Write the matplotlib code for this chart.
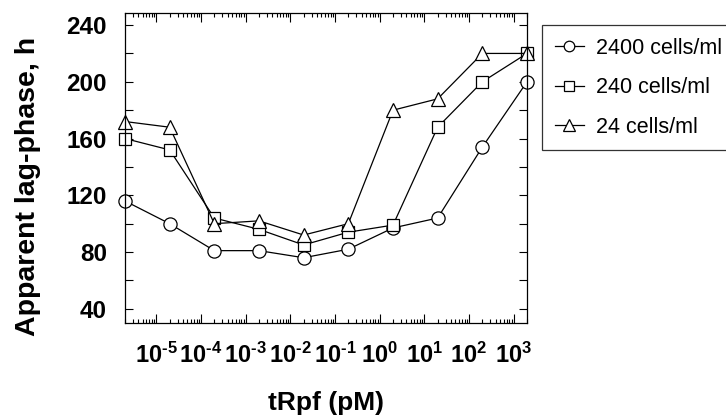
import numpy as np
import matplotlib
matplotlib.use('Agg')
import matplotlib.pyplot as plt
from matplotlib.ticker import FixedLocator, LogLocator, MultipleLocator, NullFormatter

plt.rcParams['font.family'] = ['Liberation Sans', 'DejaVu Sans']
plt.rcParams['mathtext.fontset'] = 'custom'
plt.rcParams['mathtext.bf'] = 'Liberation Sans:bold'
plt.rcParams['mathtext.rm'] = 'Liberation Sans:bold'

# tRpf concentration, pM
conc = [2e-6, 2e-5, 2e-4, 2e-3, 2e-2, 2e-1, 2e0, 2e1, 2e2, 2e3]
# apparent lag-phase, h
lag_2400 = [116, 100, 81, 81, 76, 82, 97, 104, 154, 200]
lag_240 = [160, 152, 104, 96, 85, 94, 99, 168, 200, 220]
lag_24 = [172, 168, 100, 102, 92, 100, 180, 188, 220, 220]

x_ticks = [1e-5, 1e-4, 1e-3, 1e-2, 1e-1, 1e0, 1e1, 1e2, 1e3]
x_labels = ['\u20105', '\u20104', '\u20103', '\u20102', '\u20101', '0', '1', '2', '3']
y_ticks = [40, 80, 120, 160, 200, 240]

fig = plt.figure(figsize=(7.26, 4.18), dpi=100)
ax = fig.add_axes([125/726, 95/418, 402/726, 310/418])

series = [(lag_2400, 'o', 9.5, '2400 cells/ml'),
          (lag_240, 's', 8.5, '240 cells/ml'),
          (lag_24, '^', 10, '24 cells/ml')]
for vals, mk, ms, lab in series:
    ax.plot(conc, vals, color='black', lw=0.9, marker=mk, ms=ms,
            mfc='white', mec='black', mew=0.9, label=lab, clip_on=False)

ax.set_xscale('log')
ax.set_xlim(2e-6, 2e3)
ax.set_ylim(30, 248.5)

ax.xaxis.set_major_locator(FixedLocator(x_ticks))
ax.set_xticklabels([r'$\mathbf{10^{%s}}$' % s for s in x_labels])
ax.xaxis.set_minor_locator(LogLocator(base=10, subs=np.arange(2, 10), numticks=20))
ax.xaxis.set_minor_formatter(NullFormatter())
ax.set_yticks(y_ticks)
ax.yaxis.set_minor_locator(MultipleLocator(20))

ax.tick_params(axis='both', which='both', direction='in', top=True, right=True,
               width=0.8)
ax.tick_params(axis='x', which='major', length=6.5, pad=14, labelsize=17)
ax.tick_params(axis='x', which='minor', length=3)
ax.tick_params(axis='y', which='both', length=6, pad=13)
ax.tick_params(axis='y', which='major', labelsize=17.5)
for lbl in ax.get_yticklabels():
    lbl.set_fontweight('bold')
for sp in ax.spines.values():
    sp.set_linewidth(0.9)

ax.set_xlabel('tRpf (pM)', fontsize=19, fontweight='bold')
ax.xaxis.set_label_coords(0.5, -0.218)
ax.set_ylabel('Apparent lag-phase, h', fontsize=20.5, fontweight='bold')
ax.yaxis.set_label_coords(-0.21, 0.44)

leg = fig.legend(loc='upper left', bbox_to_anchor=(542/726, 1 - 25/418),
                 fontsize=15.5, frameon=True, fancybox=False, edgecolor='black',
                 handlelength=1.35, handletextpad=0.55, labelspacing=0.85,
                 borderpad=0.6, borderaxespad=0, markerscale=0.8)
leg.get_frame().set_linewidth(0.9)

fig.savefig('out.png', dpi=100)
